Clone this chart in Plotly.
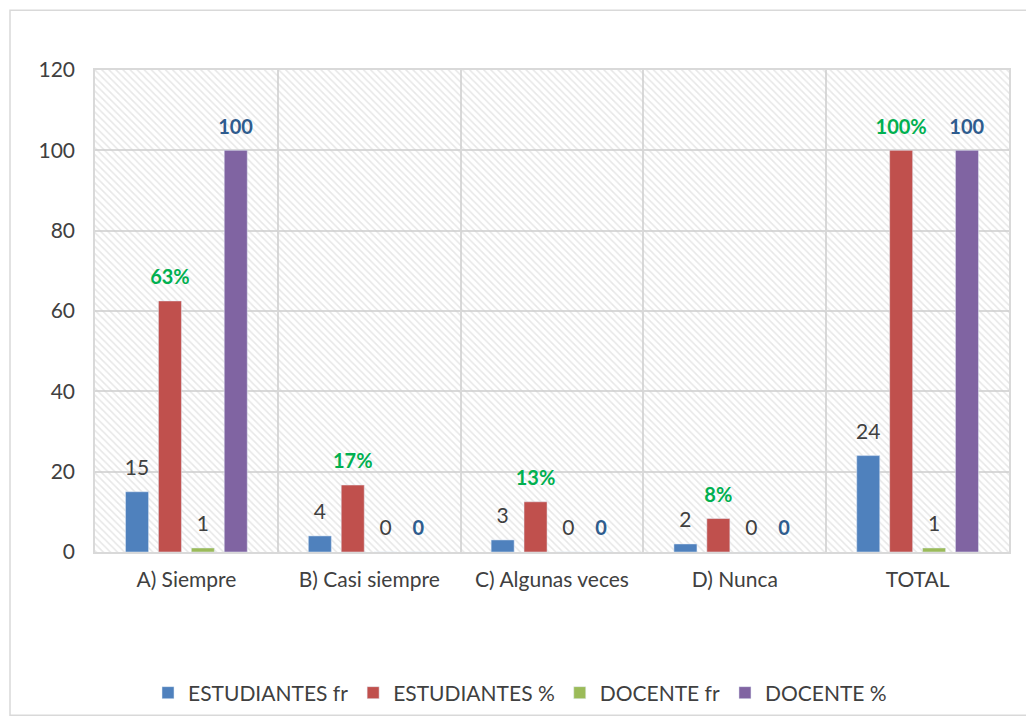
import plotly.graph_objects as go

categories = ["A) Siempre", "B) Casi siempre", "C) Algunas veces", "D) Nunca", "TOTAL"]
est_fr = [15, 4, 3, 2, 24]
est_pct = [62.5, 16.67, 12.5, 8.33, 100]
est_pct_labels = ["63%", "17%", "13%", "8%", "100%"]
doc_fr = [1, 0, 0, 0, 1]
doc_pct = [100, 0, 0, 0, 100]
y_ticks = [0, 20, 40, 60, 80, 100, 120]

FONT = "Lato"
GRAY = "#404040"
FS = 21


def lab(values, size):
    return ["<span style='font-size:%dpx'>%s</span><br> " % (size, v) for v in values]


fig = go.Figure()

# hatched plot-area background (on base axis, drawn beneath the bars' overlay axis)
fig.add_trace(go.Scatter(
    x=[0, 1, 1, 0, 0], y=[0, 0, 120, 120, 0], xaxis="x", yaxis="y",
    mode="lines", line=dict(width=0), fill="toself", fillcolor="rgba(0,0,0,0)",
    fillpattern=dict(shape="\\", size=5, solidity=0.3, fgcolor="#CFCFCF",
                     bgcolor="rgba(0,0,0,0)"),
    showlegend=False, hoverinfo="skip"))

fig.add_trace(go.Bar(name="ESTUDIANTES fr", x=categories, y=est_fr, marker_color="#4F81BD",
                     text=lab(est_fr, FS), textposition="outside",
                     textfont=dict(color=GRAY, size=9, family=FONT)))
fig.add_trace(go.Bar(name="ESTUDIANTES %", x=categories, y=est_pct, marker_color="#C0504D",
                     text=lab(est_pct_labels, FS - 1), textposition="outside",
                     textfont=dict(color="#00B050", size=9, family=FONT, weight="bold")))
fig.add_trace(go.Bar(name="DOCENTE fr", x=categories, y=doc_fr, marker_color="#9BBB59",
                     text=lab(doc_fr, FS), textposition="outside",
                     textfont=dict(color=GRAY, size=9, family=FONT)))
fig.add_trace(go.Bar(name="DOCENTE %", x=categories, y=doc_pct, marker_color="#8064A2",
                     text=lab(doc_pct, FS - 1), textposition="outside",
                     textfont=dict(color="#2E5C8E", size=9, family=FONT, weight="bold")))

fig.update_traces(selector=dict(type="bar"), cliponaxis=False, constraintext="none",
                  xaxis="x2", yaxis="y")

W, H = 1026, 718
L, T = 87, 62
R = W - 1001
B = H - 546
pw, ph = W - L - R, H - T - B

fig.update_layout(
    width=W, height=H,
    margin=dict(l=L, r=R, t=T, b=B),
    paper_bgcolor="white", plot_bgcolor="white",
    barmode="group", bargap=0.28, bargroupgap=0.3,
    font=dict(family=FONT, size=FS, color=GRAY),
    xaxis=dict(range=[0, 1], visible=False, showgrid=False, zeroline=False),
    xaxis2=dict(type="category", overlaying="x", anchor="y", side="bottom",
                tickson="boundaries", showgrid=True, gridcolor="#D9D9D9",
                gridwidth=1.5, ticks="", showline=True, linecolor="#D9D9D9", linewidth=1.5,
                mirror=True, tickfont=dict(size=FS, color=GRAY), ticklabelstandoff=8),
    yaxis=dict(range=[0, 120], tickvals=y_ticks, showgrid=True, gridcolor="#D9D9D9",
               gridwidth=1.5, zeroline=False, showline=True, linecolor="#D9D9D9",
               linewidth=1.5, mirror=True, tickfont=dict(size=FS, color=GRAY),
               ticklabelstandoff=14),
    legend=dict(orientation="h", x=0.465, xanchor="center", y=-0.25, yanchor="top",
                font=dict(size=21, color=GRAY), itemwidth=30, tracegroupgap=0,
                traceorder="normal"),
    shapes=[dict(type="rect", xref="paper", yref="paper",
                 x0=-(L - 2) / pw, x1=1 + (R - 2) / pw, y0=-(B - 8) / ph, y1=1 + (T - 2) / ph,
                 line=dict(color="#D9D9D9", width=1.5), fillcolor="rgba(0,0,0,0)",
                 layer="below")],
)

fig.write_html("out.html")
